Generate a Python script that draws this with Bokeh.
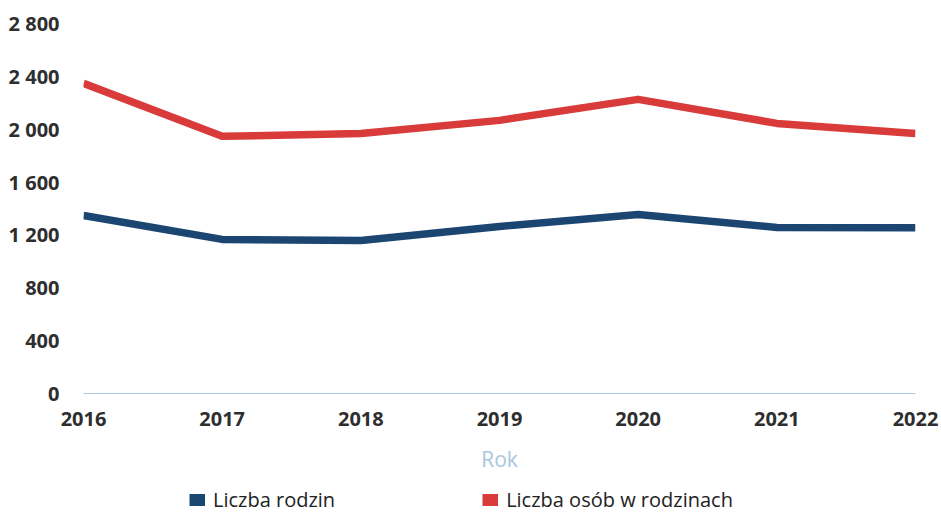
from bokeh.plotting import figure
from bokeh.models import Range1d, FixedTicker, Legend, LegendItem, ColumnDataSource
from bokeh.layouts import column
from bokeh.embed import file_html
from bokeh.resources import INLINE

years = [2016, 2017, 2018, 2019, 2020, 2021, 2022]
families = [1347, 1166, 1158, 1264, 1355, 1257, 1255]
persons = [2347, 1946, 1968, 2067, 2226, 2044, 1968]
y_ticks = [0, 400, 800, 1200, 1600, 2000, 2400, 2800]
y_tick_labels = ["0", "400", "800", "1 200", "1 600", "2 000", "2 400", "2 800"]
series_names = ["Liczba rodzin", "Liczba osób w rodzinach"]
x_title = "Rok"

BLUE = "#1c4672"
RED = "#d93a3a"
FONT = "Open Sans"

p = figure(width=941, height=475, output_backend="svg", toolbar_location=None,
           x_range=Range1d(years[0], years[-1]), y_range=Range1d(y_ticks[0], y_ticks[-1]),
           min_border_left=83, min_border_right=26, min_border_top=23, min_border_bottom=82)
p.outline_line_color = None
p.xgrid.visible = False
p.ygrid.visible = False
p.background_fill_color = "white"
p.border_fill_color = "white"

src = ColumnDataSource(dict(year=years, fam=families, per=persons))
p.line("year", "fam", source=src, line_color=BLUE, line_width=7.5, line_join="round", line_cap="butt")
p.line("year", "per", source=src, line_color=RED, line_width=7.5, line_join="round", line_cap="butt")

# axes
p.xaxis.ticker = FixedTicker(ticks=years)
p.xaxis.major_tick_line_color = None
p.xaxis.minor_tick_line_color = None
p.xaxis.axis_line_color = "#a9c9e6"
p.xaxis.axis_line_width = 1
p.xaxis.major_label_text_font = FONT
p.xaxis.major_label_text_font_style = "bold"
p.xaxis.major_label_text_font_size = "20px"
p.xaxis.major_label_text_color = "#2e2e2e"
p.xaxis.major_label_standoff = 12
p.xaxis.axis_label = x_title
p.xaxis.axis_label_text_font = FONT
p.xaxis.axis_label_text_font_style = "normal"
p.xaxis.axis_label_text_font_size = "21px"
p.xaxis.axis_label_text_color = "#a7c6df"
p.xaxis.axis_label_standoff = 16

p.yaxis.ticker = FixedTicker(ticks=y_ticks)
p.yaxis.major_label_overrides = {t: l for t, l in zip(y_ticks, y_tick_labels)}
p.yaxis.major_tick_line_color = None
p.yaxis.minor_tick_line_color = None
p.yaxis.axis_line_color = None
p.yaxis.major_label_text_font = FONT
p.yaxis.major_label_text_font_style = "bold"
p.yaxis.major_label_text_font_size = "20px"
p.yaxis.major_label_text_color = "#2e2e2e"
p.yaxis.major_label_standoff = 18

# legend strip below the chart (its frame is aligned with the chart's frame);
# the series are drawn here outside its visible range only to give legend swatches
lg = figure(width=941, height=38, output_backend="svg", toolbar_location=None,
            x_range=Range1d(0, 1), y_range=Range1d(0, 1),
            x_axis_location=None, y_axis_location=None,
            min_border_left=0, min_border_right=0, min_border_top=0, min_border_bottom=0)
lg.outline_line_color = None
lg.xgrid.visible = False
lg.ygrid.visible = False
sw_blue = lg.line("year", "fam", source=src, line_color=BLUE, line_width=12, line_cap="butt")
sw_red = lg.line("year", "per", source=src, line_color=RED, line_width=12, line_cap="butt")

legend = Legend(items=[LegendItem(label=series_names[0], renderers=[sw_blue]),
                       LegendItem(label=series_names[1], renderers=[sw_red])],
                orientation="horizontal", location=(106, 0),
                glyph_width=16, glyph_height=15, label_standoff=8, spacing=147,
                padding=0, margin=0, border_line_color=None, background_fill_alpha=0,
                label_text_font=FONT, label_text_font_size="20px", label_text_color="#222222")
lg.add_layout(legend)

open("out.html", "w").write(file_html(column(p, lg), INLINE))
